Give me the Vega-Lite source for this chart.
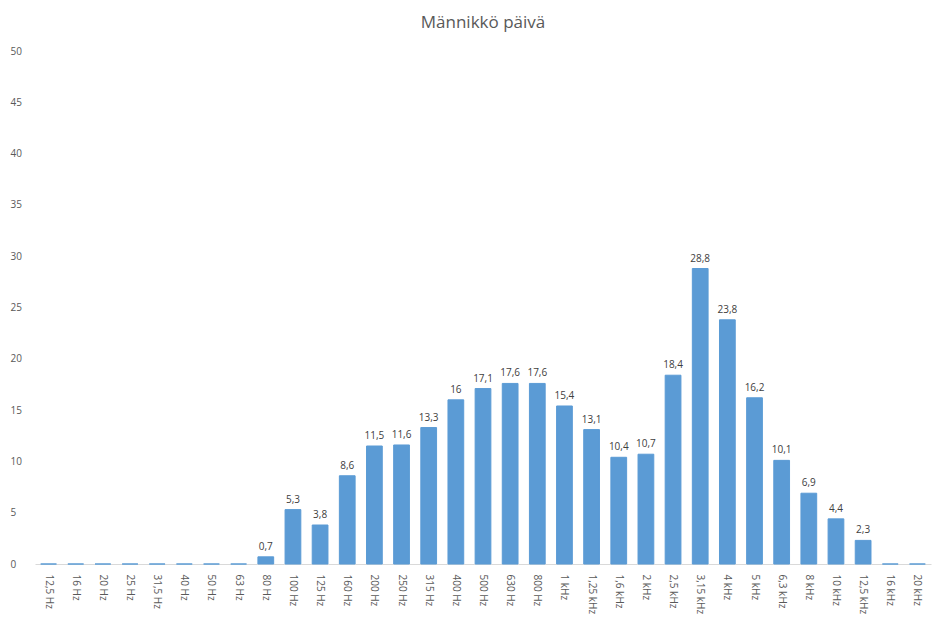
{
  "$schema": "https://vega.github.io/schema/vega-lite/v6.json",
  "autosize": "none",
  "width": 896,
  "height": 513,
  "padding": {"left": 35, "top": 51, "right": 6, "bottom": 56},
  "background": "white",
  "config": {
    "view": {"stroke": null},
    "font": "Open Sans",
    "locale": {"number": {"decimal": ",", "thousands": " ", "grouping": [3], "currency": ["", " €"]}}
  },
  "title": {"text": "Männikkö päivä", "fontSize": 17, "fontWeight": "normal", "color": "#595959", "offset": 14, "font": "Open Sans"},
  "data": {"values": [
    {"band": "12,5 Hz", "value": 0},
    {"band": "16 Hz", "value": 0},
    {"band": "20 Hz", "value": 0},
    {"band": "25 Hz", "value": 0},
    {"band": "31,5 Hz", "value": 0},
    {"band": "40 Hz", "value": 0},
    {"band": "50 Hz", "value": 0},
    {"band": "63 Hz", "value": 0},
    {"band": "80 Hz", "value": 0.7},
    {"band": "100 Hz", "value": 5.3},
    {"band": "125 Hz", "value": 3.8},
    {"band": "160 Hz", "value": 8.6},
    {"band": "200 Hz", "value": 11.5},
    {"band": "250 Hz", "value": 11.6},
    {"band": "315 Hz", "value": 13.3},
    {"band": "400 Hz", "value": 16},
    {"band": "500 Hz", "value": 17.1},
    {"band": "630 Hz", "value": 17.6},
    {"band": "800 Hz", "value": 17.6},
    {"band": "1 kHz", "value": 15.4},
    {"band": "1,25 kHz", "value": 13.1},
    {"band": "1,6 kHz", "value": 10.4},
    {"band": "2 kHz", "value": 10.7},
    {"band": "2,5 kHz", "value": 18.4},
    {"band": "3,15 kHz", "value": 28.8},
    {"band": "4 kHz", "value": 23.8},
    {"band": "5 kHz", "value": 16.2},
    {"band": "6,3 kHz", "value": 10.1},
    {"band": "8 kHz", "value": 6.9},
    {"band": "10 kHz", "value": 4.4},
    {"band": "12,5 kHz", "value": 2.3},
    {"band": "16 kHz", "value": 0},
    {"band": "20 kHz", "value": 0}
  ]},
  "encoding": {
    "x": {
      "field": "band", "type": "nominal", "sort": null,
      "scale": {"paddingInner": 0.42, "paddingOuter": 0.21},
      "axis": {"title": null, "labelAngle": 90, "labelAlign": "left", "labelBaseline": "middle", "labelFontSize": 10, "labelColor": "#595959", "ticks": false, "labelPadding": 10, "domainColor": "#d9d9d9", "domainWidth": 1}
    },
    "y": {
      "field": "value", "type": "quantitative",
      "scale": {"domain": [0, 50]},
      "axis": {"title": null, "values": [0,5,10,15,20,25,30,35,40,45,50], "grid": false, "domain": false, "ticks": false, "labelFontSize": 10, "labelColor": "#595959", "labelAlign": "left", "labelPadding": 25, "format": "d"}
    }
  },
  "layer": [
    {"mark": {"type": "bar", "color": "#5B9BD5", "stroke": "#5B9BD5", "strokeWidth": 1}},
    {
      "transform": [{"filter": "datum.value > 0"}],
      "mark": {"type": "text", "dy": -10, "fontSize": 10, "color": "#404040"},
      "encoding": {"text": {"field": "value", "type": "quantitative", "format": "~g"}}
    }
  ]
}
